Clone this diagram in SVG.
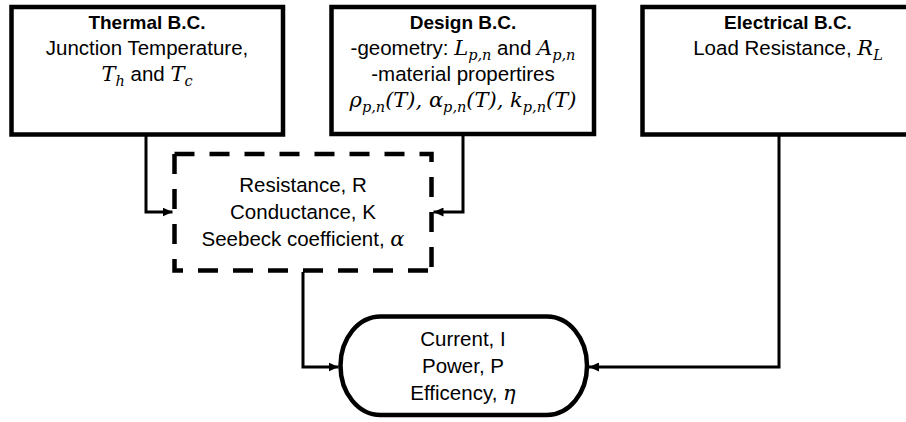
<svg xmlns="http://www.w3.org/2000/svg" width="906" height="422" viewBox="0 0 906 422">
  <defs>
    <marker id="arr" markerUnits="userSpaceOnUse" markerWidth="11" markerHeight="9" refX="10" refY="4.5" orient="auto">
      <path d="M0,0 L10,4.5 L0,9 Z" fill="#000"/>
    </marker>
    <style>
      .box{fill:#fff;stroke:#000;stroke-width:4.5}
      .dash{fill:none;stroke:#000;stroke-width:4.5;stroke-dasharray:20 15}
      .conn{fill:none;stroke:#000;stroke-width:3}
      text{font-family:"Liberation Sans",Arial,sans-serif;font-size:20.5px;fill:#000;text-anchor:middle}
      .b{font-weight:bold;font-size:19px}
      .m{font-family:"DejaVu Serif","Liberation Serif",serif;font-style:italic;font-size:21px}
      .s{font-family:"DejaVu Serif","Liberation Serif",serif;font-style:italic;font-size:14.5px}
    </style>
  </defs>
  <rect width="906" height="422" fill="#fff"/>

  <g id="connectors">
    <path class="conn" d="M146,136 V212 H172.5" marker-end="url(#arr)"/>
    <path class="conn" d="M463,136 V212 H433.5" marker-end="url(#arr)"/>
    <path class="conn" d="M303,272 V367 H338.5" marker-end="url(#arr)"/>
    <path class="conn" d="M779,136 V367 H589" marker-end="url(#arr)"/>
  </g>

  <g id="thermal">
    <rect class="box" x="11.5" y="7" width="271.5" height="127.5"/>
    <text x="147" y="29" class="b">Thermal B.C.</text>
    <text x="147" y="55">Junction Temperature,</text>
    <text x="147" y="81"><tspan class="m">T</tspan><tspan class="s" dy="5">h</tspan><tspan dy="-5"> and </tspan><tspan class="m">T</tspan><tspan class="s" dy="5">c</tspan></text>
  </g>

  <g id="design">
    <rect class="box" x="331.5" y="7" width="262.5" height="127"/>
    <text x="463" y="29" class="b">Design B.C.</text>
    <text x="463" y="55">-geometry: <tspan class="m">L</tspan><tspan class="s" dy="5">p,n</tspan><tspan dy="-5"> and </tspan><tspan class="m">A</tspan><tspan class="s" dy="5">p,n</tspan></text>
    <text x="463" y="81">-material propertires</text>
    <text x="463" y="107"><tspan class="m">ρ</tspan><tspan class="s" dy="5">p,n</tspan><tspan class="m" dy="-5">(T), α</tspan><tspan class="s" dy="5">p,n</tspan><tspan class="m" dy="-5">(T), k</tspan><tspan class="s" dy="5">p,n</tspan><tspan class="m" dy="-5">(T)</tspan></text>
  </g>

  <g id="electrical">
    <rect class="box" x="642.5" y="7" width="291" height="127.5"/>
    <text x="788" y="29" class="b">Electrical B.C.</text>
    <text x="788" y="55">Load Resistance, <tspan class="m">R</tspan><tspan class="s" dy="5">L</tspan></text>
  </g>

  <g id="properties">
    <path class="dash" d="M174.5,154 H431.5 V270.5"/>
    <path class="dash" d="M174.5,154 V270.5 H431.5"/>
    <text x="303" y="192">Resistance, R</text>
    <text x="303" y="219">Conductance, K</text>
    <text x="303" y="246">Seebeck coefficient, <tspan class="m">α</tspan></text>
  </g>

  <g id="outputs">
    <rect class="box" x="340.5" y="316.5" width="246.5" height="98.5" rx="40" ry="49"/>
    <text x="463" y="346">Current, I</text>
    <text x="463" y="373">Power, P</text>
    <text x="463" y="400">Efficency, <tspan class="m">η</tspan></text>
  </g>
</svg>
